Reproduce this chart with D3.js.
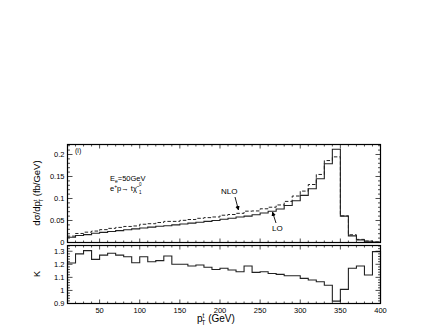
<!DOCTYPE html>
<html>
<head>
<meta charset="utf-8">
<script src="https://cdn.jsdelivr.net/npm/d3@7"></script>
<style>
  body { margin: 0; background: #fff; }
  svg { display: block; font-family: "Liberation Sans", Helvetica, Arial, sans-serif; }
</style>
</head>
<body>
<svg id="chart" width="443" height="332"></svg>
<script>
// bin edges: 10 GeV bins from 10 to 400
const binStart = [10,20,30,40,50,60,70,80,90,100,110,120,130,140,150,160,170,180,190,200,
                  210,220,230,240,250,260,270,280,290,300,310,320,330,340,350,360,370,380,390];
const binWidth = 10;

// LO differential cross section (fb/GeV)
const lo = [0.012,0.016,0.018,0.021,0.023,0.025,0.027,0.029,0.031,0.033,
            0.035,0.037,0.038,0.040,0.042,0.044,0.046,0.048,0.050,0.053,
            0.055,0.058,0.060,0.063,0.067,0.071,0.076,0.084,0.095,0.107,
            0.122,0.145,0.179,0.212,0.060,0.015,0.006,0.003,0.001];

// NLO differential cross section (fb/GeV)
const nlo = [0.0145,0.0205,0.0235,0.026,0.0292,0.0321,0.0343,0.0365,0.0376,0.0415,
             0.0427,0.0454,0.048,0.048,0.0504,0.0522,0.055,0.0565,0.058,0.062,
             0.0636,0.0663,0.0712,0.0717,0.0766,0.0802,0.0853,0.0934,0.1056,0.1168,
             0.1318,0.1546,0.1862,0.1946,0.0605,0.0176,0.0071,0.0034,0.0013];

// K factor
const kFactor = [1.21,1.28,1.305,1.238,1.27,1.285,1.27,1.258,1.212,1.258,
                 1.22,1.228,1.264,1.20,1.20,1.187,1.195,1.177,1.16,1.17,
                 1.156,1.143,1.187,1.138,1.143,1.13,1.123,1.112,1.112,1.092,
                 1.08,1.066,1.04,0.918,1.008,1.17,1.187,1.118,1.297];

const xTicks = [50,100,150,200,250,300,350,400];
const topTicks = [0,0.05,0.1,0.15,0.2];
const topTickLabels = ["0","0.05","0.1","0.15","0.2"];
const kTicks = [0.9,1,1.1,1.2,1.3];
const kTickLabels = ["0.9","1","1.1","1.2","1.3"];

const svg = d3.select("#chart");
const left = 67.5, right = 380.5;
const topBox = {y0: 144.5, y1: 242.5};
const botBox = {y0: 245.5, y1: 303.5};

const x = d3.scaleLinear().domain([10, 400]).range([left, right]);
const yTop = d3.scaleLinear().domain([0, 0.2227]).range([topBox.y1, topBox.y0]);
const yK = d3.scaleLinear().domain([0.9, 1.344]).range([botBox.y1, botBox.y0]);

// build step path for a histogram
function histPath(values, y, floor) {
    let p = "M" + x(binStart[0]) + "," + y(floor);
    values.forEach((v, i) => {
        p += "L" + x(binStart[i]) + "," + y(v);
        p += "L" + x(binStart[i] + binWidth) + "," + y(v);
    });
    p += "L" + x(400) + "," + y(floor);
    return p;
}

function frame(box, y, yTickVals, yLabels, minorStep, showXLabels) {
    const g = svg.append("g");
    // minor + major x ticks on bottom and top, inward
    d3.range(10, 401, 10).forEach(v => {
        const major = v % 50 === 0;
        const len = major ? 4 : 2;
        g.append("line").attr("x1", x(v)).attr("x2", x(v))
            .attr("y1", box.y1).attr("y2", box.y1 - len)
            .attr("stroke", "#000").attr("stroke-width", 0.7);
        g.append("line").attr("x1", x(v)).attr("x2", x(v))
            .attr("y1", box.y0).attr("y2", box.y0 + len)
            .attr("stroke", "#000").attr("stroke-width", 0.7);
    });
    // y ticks: minor
    const dom = y.domain();
    d3.range(dom[0], dom[1] + 1e-9, minorStep).forEach(v => {
        const isMajor = yTickVals.some(t => Math.abs(t - v) < 1e-6);
        const len = isMajor ? 5 : 2.5;
        g.append("line").attr("x1", left).attr("x2", left + len)
            .attr("y1", y(v)).attr("y2", y(v))
            .attr("stroke", "#000").attr("stroke-width", 0.7);
        g.append("line").attr("x1", right).attr("x2", right - len)
            .attr("y1", y(v)).attr("y2", y(v))
            .attr("stroke", "#000").attr("stroke-width", 0.7);
    });
    yTickVals.forEach((v, i) => {
        g.append("text").attr("x", left - 3).attr("y", y(v) + 2.5)
            .attr("text-anchor", "end").attr("font-size", 7.5)
            .text(yLabels[i]);
    });
    if (showXLabels) {
        xTicks.forEach(v => {
            g.append("text").attr("x", x(v)).attr("y", box.y1 + 9)
                .attr("text-anchor", "middle").attr("font-size", 7.5)
                .text(v);
        });
    }
    g.append("rect").attr("x", left).attr("y", box.y0)
        .attr("width", right - left).attr("height", box.y1 - box.y0)
        .attr("fill", "none").attr("stroke", "#000").attr("stroke-width", 1.2);
}

// top panel
svg.append("path").attr("d", histPath(nlo, yTop, 0))
    .attr("fill", "none").attr("stroke", "#222").attr("stroke-width", 1)
    .attr("stroke-dasharray", "3.5,2");
svg.append("path").attr("d", histPath(lo, yTop, 0))
    .attr("fill", "none").attr("stroke", "#222").attr("stroke-width", 1.1);
frame(topBox, yTop, topTicks, topTickLabels, 0.01, false);

// bottom panel
svg.append("path").attr("d", histPath(kFactor, yK, 0.9))
    .attr("fill", "none").attr("stroke", "#222").attr("stroke-width", 1.1);
frame(botBox, yK, kTicks, kTickLabels, 0.02, true);

// annotations
svg.append("text").attr("x", 75).attr("y", 153).attr("font-size", 7).text("(i)");

const t1 = svg.append("text").attr("x", 110).attr("y", 181).attr("font-size", 7.5);
t1.append("tspan").text("E");
t1.append("tspan").attr("font-size", 5).attr("dy", 1.5).text("e");
t1.append("tspan").attr("dy", -1.5).text("=50GeV");

const t2 = svg.append("text").attr("x", 110).attr("y", 191).attr("font-size", 7.5);
t2.append("tspan").text("e");
t2.append("tspan").attr("font-size", 5).attr("dy", -3).text("+");
t2.append("tspan").attr("dy", 3).text("p\u2192 t\u03C7\u0303");
svg.append("text").attr("x", 139).attr("y", 186).attr("font-size", 4.5).text("0");
svg.append("text").attr("x", 139).attr("y", 194).attr("font-size", 4.5).text("1");

svg.append("defs").append("marker").attr("id", "arr")
    .attr("viewBox", "0 0 10 10").attr("refX", 9).attr("refY", 5)
    .attr("markerWidth", 5).attr("markerHeight", 5).attr("orient", "auto")
    .append("path").attr("d", "M0,0L10,5L0,10z").attr("fill", "#000");

svg.append("text").attr("x", 221).attr("y", 194).attr("font-size", 8).text("NLO");
svg.append("line").attr("x1", 235).attr("y1", 197).attr("x2", 238.5).attr("y2", 210)
    .attr("stroke", "#000").attr("stroke-width", 0.9).attr("marker-end", "url(#arr)");

svg.append("text").attr("x", 272).attr("y", 231).attr("font-size", 8).text("LO");
svg.append("line").attr("x1", 276).attr("y1", 223).attr("x2", 272.5).attr("y2", 212)
    .attr("stroke", "#000").attr("stroke-width", 0.9).attr("marker-end", "url(#arr)");

// axis titles
const yt = svg.append("text").attr("transform", "translate(40,193) rotate(-90)")
    .attr("text-anchor", "middle").attr("font-size", 9.5);
yt.append("tspan").text("d\u03C3/dp");
yt.append("tspan").attr("font-size", 6).attr("dy", -3.5).text("t");
yt.append("tspan").attr("font-size", 6).attr("dx", -3).attr("dy", 6).text("T");
yt.append("tspan").attr("dy", -2.5).text(" (fb/GeV)");

svg.append("text").attr("x", 40).attr("y", 274).attr("font-size", 9)
    .attr("text-anchor", "middle")
    .attr("transform", "rotate(-90,40,274)").text("K");

const xt = svg.append("text").attr("x", 197).attr("y", 322).attr("font-size", 10);
xt.append("tspan").text("p");
xt.append("tspan").attr("font-size", 6.5).attr("dy", -4).text("t");
xt.append("tspan").attr("font-size", 6.5).attr("dx", -3).attr("dy", 6.5).text("T");
xt.append("tspan").attr("dy", -2.5).text(" (GeV)");
</script>
</body>
</html>
